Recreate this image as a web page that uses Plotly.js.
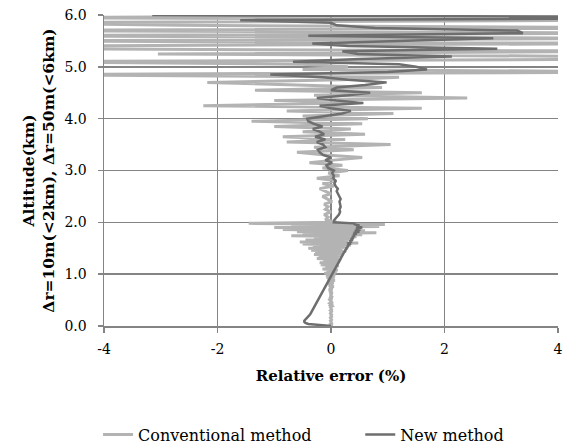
<!DOCTYPE html>
<html>
<head>
<meta charset="utf-8">
<script src="https://cdn.plot.ly/plotly-3.0.1.min.js"></script>
<style>html,body{margin:0;padding:0;background:#fff;}#chart{width:570px;height:448px;}</style>
</head>
<body>
<div id="chart"></div>
<script>
// Altitude (km): 0–2 km sampled every 20 m, 2–6 km every 50 m
const altitude = [
 0.00,0.02,0.04,0.06,0.08,0.10,0.12,0.14,0.16,0.18,
 0.20,0.22,0.24,0.26,0.28,0.30,0.32,0.34,0.36,0.38,
 0.40,0.42,0.44,0.46,0.48,0.50,0.52,0.54,0.56,0.58,
 0.60,0.62,0.64,0.66,0.68,0.70,0.72,0.74,0.76,0.78,
 0.80,0.82,0.84,0.86,0.88,0.90,0.92,0.94,0.96,0.98,
 1.00,1.02,1.04,1.06,1.08,1.10,1.12,1.14,1.16,1.18,
 1.20,1.22,1.24,1.26,1.28,1.30,1.32,1.34,1.36,1.38,
 1.40,1.42,1.44,1.46,1.48,1.50,1.52,1.54,1.56,1.58,
 1.60,1.62,1.64,1.66,1.68,1.70,1.72,1.74,1.76,1.78,
 1.80,1.82,1.84,1.86,1.88,1.90,1.92,1.94,1.96,1.98,
 2.00,
 2.05,2.10,2.15,2.20,2.25,2.30,2.35,2.40,2.45,2.50,
 2.55,2.60,2.65,2.70,2.75,2.80,2.85,2.90,2.95,3.00,
 3.05,3.10,3.15,3.20,3.25,3.30,3.35,3.40,3.45,3.50,
 3.55,3.60,3.65,3.70,3.75,3.80,3.85,3.90,3.95,4.00,
 4.05,4.10,4.15,4.20,4.25,4.30,4.35,4.40,4.45,4.50,
 4.55,4.60,4.65,4.70,4.75,4.80,4.85,4.90,4.95,5.00,
 5.05,5.10,5.15,5.20,5.25,5.30,5.35,5.40,5.45,5.50,
 5.55,5.60,5.65,5.70,5.75,5.80,5.85,5.90,5.95,6.00
];

// Relative error (%) – conventional method
const conventional = [
 0,0.01,-0.01,0.01,0,-0.01,0.01,0,-0.01,0.01,
 0,0.01,-0.01,0,0.01,-0.01,0.01,0,-0.01,0.02,
 -0.01,0.01,-0.02,0.01,0,-0.02,0.02,-0.01,0.01,-0.02,
 0.02,-0.02,0.03,-0.03,0.02,-0.04,0.03,-0.03,0.05,-0.04,
 0.04,-0.06,0.05,-0.05,0.07,-0.06,0.06,-0.08,0.07,-0.09,
 0.08,-0.12,0.1,-0.08,0.12,-0.15,0.09,-0.1,0.14,-0.18,
 0.12,-0.2,0.16,-0.14,0.18,-0.25,0.15,-0.22,0.2,-0.3,
 0.22,-0.28,0.25,-0.35,0.2,-0.4,0.3,-0.32,0.35,-0.5,
 0.48,-0.55,0.3,-0.45,0.4,-0.3,0.45,-0.7,0.55,-0.5,
 0.8,-0.6,0.6,-0.85,0.5,-1.0,0.85,-0.7,0.95,-1.45,
 0.1,
 -0.1,-0.05,-0.12,0.0,-0.1,-0.05,-0.12,0.02,-0.08,-0.15,
 0.0,-0.1,-0.2,0.05,-0.15,0.1,-0.25,0.15,-0.05,0.3,
 -0.15,0.2,-0.38,0.05,0.55,-0.1,-0.6,0.4,-0.3,1.05,
 -0.78,0.25,-0.85,0.6,-0.5,0.35,-1.0,0.55,-1.4,0.65,
 -0.5,1.1,-0.78,1.6,-2.25,0.3,-1.0,2.4,-0.3,1.6,
 -1.34,0.9,-0.6,-2.18,0.2,1.2,-6,6,-0.5,0.3,
 -0.5,-6,6,5,-3.05,6,-6,-6,6,-6,
 6,-6,6,-6,6,-2.7,-6,6,-6,6
];

// Relative error (%) – new method
const newMethod = [
 0.0,-0.25,-0.4,-0.45,-0.47,-0.47,-0.46,-0.44,-0.42,-0.40,
 -0.385,-0.37,-0.36,-0.35,-0.34,-0.33,-0.32,-0.31,-0.30,-0.29,
 -0.28,-0.27,-0.26,-0.25,-0.24,-0.23,-0.22,-0.21,-0.2,-0.19,
 -0.18,-0.17,-0.16,-0.15,-0.14,-0.13,-0.12,-0.11,-0.1,-0.09,
 -0.08,-0.07,-0.06,-0.05,-0.04,-0.03,-0.02,-0.01,0.0,0.01,
 0.02,0.03,0.04,0.04,0.06,0.06,0.08,0.08,0.1,0.1,
 0.12,0.12,0.14,0.15,0.15,0.17,0.18,0.19,0.2,0.21,
 0.22,0.23,0.25,0.25,0.27,0.27,0.29,0.3,0.3,0.33,
 0.31,0.35,0.34,0.38,0.35,0.4,0.37,0.42,0.39,0.45,
 0.4,0.5,0.42,0.52,0.44,0.55,0.45,0.5,0.42,0.4,
 0.05,
 0.06,0.1,0.14,0.16,0.15,0.17,0.16,0.15,0.17,0.15,
 0.12,0.1,0.12,0.08,0.06,0.08,0.04,0.05,0.02,0.05,
 -0.05,-0.08,0.02,-0.1,0.0,-0.14,-0.2,-0.23,-0.1,-0.14,
 -0.25,-0.1,-0.28,-0.12,-0.2,-0.32,-0.15,-0.3,-0.4,-0.42,
 -0.1,0.2,0.35,0.0,-0.2,0.57,0.1,-0.25,0.3,0.69,
 0.0,0.1,0.6,0.98,0.3,-0.14,-1.07,1.0,1.69,1.5,
 1.2,-0.67,0.5,2.13,0.47,0.2,2.93,0.3,-0.33,1.2,
 2.86,-0.4,3.38,3.28,0.78,0.1,0.0,-1.6,8.0,-3.15
];

const xTickVals = [-4, -2, 0, 2, 4];
const xTickText = ['-4', '-2', '0', '2', '4'];
const yTickVals = [0, 1, 2, 3, 4, 5, 6];
const yTickText = ['0.0', '1.0', '2.0', '3.0', '4.0', '5.0', '6.0'];

const FONT = '"DejaVu Serif", "Liberation Serif", serif';
const GRID = '#848484';

const traces = [
  {x: conventional, y: altitude, type: 'scatter', mode: 'lines', name: 'Conventional method',
   line: {color: '#b3b3b3', width: 3}, legend: 'legend'},
  {x: newMethod, y: altitude, type: 'scatter', mode: 'lines', name: 'New method',
   line: {color: '#6e6e6e', width: 2.5}, legend: 'legend2'}
];

const legendFont = {family: FONT, size: 16, color: '#000'};

const layout = {
  width: 570, height: 448,
  margin: {l: 104, r: 12, t: 15, b: 122},
  paper_bgcolor: '#fff', plot_bgcolor: '#fff',
  font: {family: FONT, size: 14, color: '#000'},
  showlegend: true,
  legend: {orientation: 'h', xref: 'container', yref: 'container',
           x: 0.172, xanchor: 'left', y: 0.03, yanchor: 'middle', font: legendFont},
  legend2: {orientation: 'h', xref: 'container', yref: 'container',
           x: 0.632, xanchor: 'left', y: 0.03, yanchor: 'middle', font: legendFont},
  xaxis: {
    range: [-4, 4], tickvals: xTickVals, ticktext: xTickText, automargin: false,
    showgrid: true, gridcolor: GRID, gridwidth: 1.5, zeroline: false,
    showline: true, linecolor: GRID, linewidth: 1.5,
    ticks: 'outside', ticklen: 5, tickcolor: GRID, tickwidth: 1.5,
    ticklabelstandoff: 5,
    tickfont: {family: FONT, size: 14},
    title: {text: '<b>Relative error (%)</b>', font: {family: FONT, size: 15}, standoff: 14}
  },
  yaxis: {
    range: [0, 6], tickvals: yTickVals, ticktext: yTickText, automargin: false,
    showgrid: true, gridcolor: GRID, gridwidth: 1.5, zeroline: false,
    showline: true, linecolor: GRID, linewidth: 1.5,
    ticks: 'outside', ticklen: 5, tickcolor: GRID, tickwidth: 1.5,
    ticklabelstandoff: 8,
    tickfont: {family: FONT, size: 14},
    title: {text: '<b>Altitude(km)<br>Δr=10m(<2km), Δr=50m(<6km)</b>', font: {family: FONT, size: 15.5}, standoff: 6}
  }
};

Plotly.newPlot('chart', traces, layout, {displayModeBar: false, staticPlot: true});
</script>
</body>
</html>
